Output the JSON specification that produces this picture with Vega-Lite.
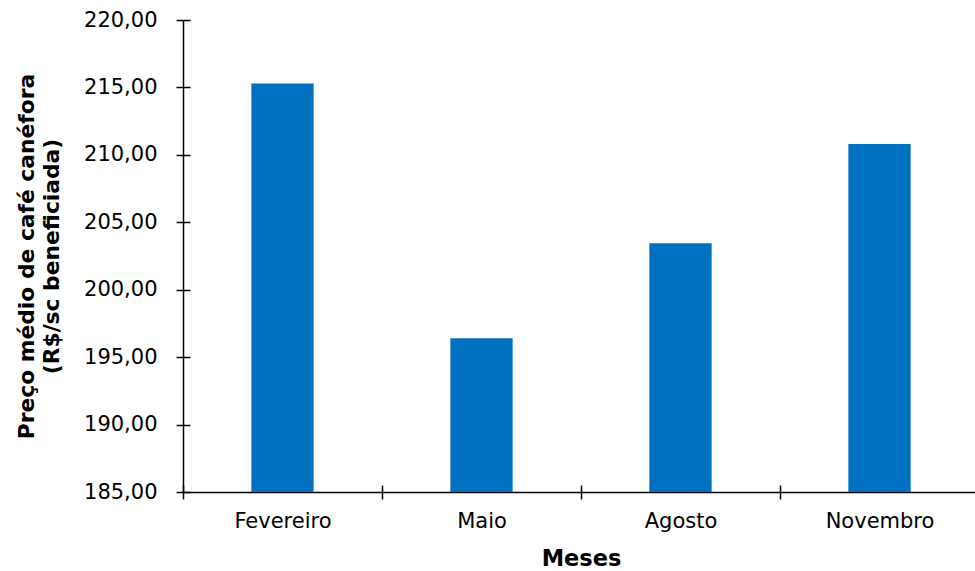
{
  "$schema": "https://vega.github.io/schema/vega-lite/v6.json",
  "autosize": {"type": "none"},
  "width": 796,
  "height": 472,
  "padding": {"left": 183, "top": 20, "right": 0, "bottom": 79},
  "background": "white",
  "config": {
    "view": {"stroke": null},
    "font": "DejaVu Sans",
    "axis": {
      "labelFont": "DejaVu Sans",
      "titleFont": "DejaVu Sans",
      "labelColor": "black",
      "titleColor": "black",
      "domainColor": "black",
      "tickColor": "black",
      "domainWidth": 1.5,
      "tickWidth": 1.5,
      "grid": false
    }
  },
  "data": {
    "values": [
      {"mes": "Fevereiro", "preco": 215.3},
      {"mes": "Maio", "preco": 196.4},
      {"mes": "Agosto", "preco": 203.45},
      {"mes": "Novembro", "preco": 210.8}
    ]
  },
  "resolve": {"axis": {"x": "independent", "y": "independent"}},
  "layer": [
    {
      "mark": {"type": "bar", "color": "#0070C0", "clip": true},
      "encoding": {
        "x": {
          "field": "mes",
          "type": "nominal",
          "sort": null,
          "scale": {"paddingInner": 0.687, "paddingOuter": 0.3435},
          "axis": {
            "orient": "bottom",
            "title": "Meses",
            "labelAngle": 0,
            "labelFontSize": 21,
            "titleFontSize": 22.5,
            "titleFontWeight": "bold",
            "tickOffset": -99.5,
            "labelOffset": 99.5,
            "tickSize": 7,
            "labelPadding": 11,
            "titlePadding": 16
          }
        },
        "y": {
          "field": "preco",
          "type": "quantitative",
          "scale": {"domain": [185, 220], "zero": false, "nice": false},
          "axis": {
            "orient": "left",
            "title": ["Preço médio de café canéfora", "(R$/sc beneficiada)"],
            "values": [185, 190, 195, 200, 205, 210, 215, 220],
            "labelExpr": "replace(format(datum.value, '.2f'), '.', ',')",
            "labelFontSize": 21,
            "titleFontSize": 21.8,
            "titleFontWeight": "bold",
            "titleLineHeight": 25,
            "tickSize": 7,
            "labelPadding": 19,
            "titlePadding": 20
          }
        }
      }
    },
    {
      "mark": {"type": "bar", "opacity": 0},
      "encoding": {
        "x": {
          "field": "mes",
          "type": "nominal",
          "sort": null,
          "axis": {
            "orient": "bottom",
            "title": null,
            "labels": false,
            "domain": false,
            "tickOffset": -99.5,
            "tickSize": -7
          }
        },
        "y": {
          "field": "preco",
          "type": "quantitative",
          "axis": {
            "orient": "left",
            "title": null,
            "labels": false,
            "domain": false,
            "values": [185, 190, 195, 200, 205, 210, 215, 220],
            "tickSize": -7
          }
        }
      }
    }
  ]
}
